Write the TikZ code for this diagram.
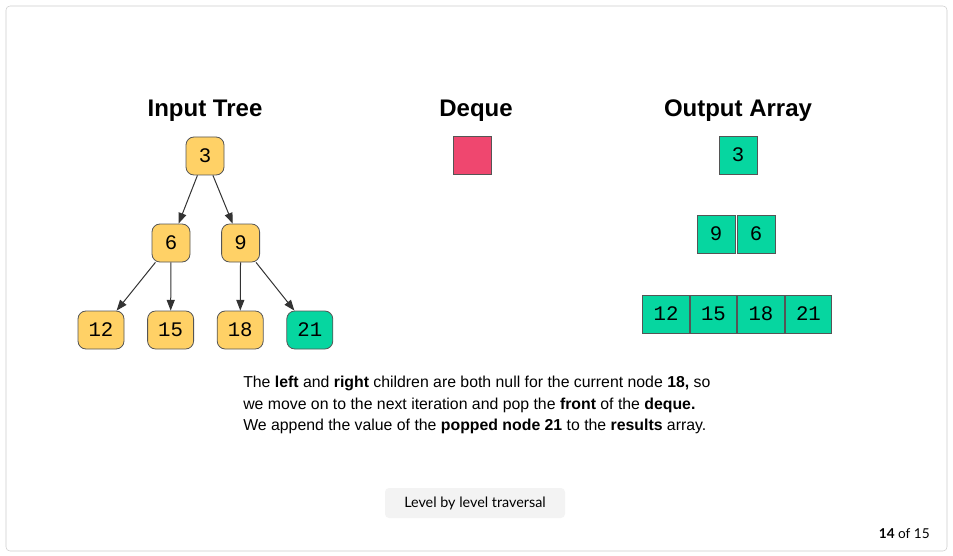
\documentclass[tikz,border=0pt]{standalone}
\usepackage{fontspec}
\setmainfont{Liberation Sans}
\newfontfamily\monofont{Liberation Mono}
\newfontfamily\uifont{Lato}
\usetikzlibrary{arrows.meta, positioning}
\definecolor{treeyellow}{HTML}{FFD166}
\definecolor{donegreen}{HTML}{06D6A0}
\definecolor{dequepink}{HTML}{EF476F}
\definecolor{edgegray}{HTML}{333333}
\definecolor{boxgray}{HTML}{555555}
\definecolor{framegray}{HTML}{CCCCCC}
\definecolor{btngray}{HTML}{F3F3F3}

\begin{document}
\begin{tikzpicture}[x=0.75pt, y=-0.75pt, ->, >={Triangle[length=8pt, width=6pt]},
  node distance=52.2pt,
  treenode/.style={draw=boxgray, line width=0.6pt, fill=treeyellow, rounded corners=6pt, minimum width=28.5pt, minimum height=28.5pt, inner sep=0pt, font=\monofont\fontsize{15.5}{17}\selectfont},
  leaf/.style={treenode, minimum width=34.5pt},
  cell/.style={draw=boxgray, line width=0.6pt, fill=donegreen, minimum width=28.5pt, minimum height=28.5pt, inner sep=0pt, font=\monofont\fontsize{15.5}{17}\selectfont},
  widecell/.style={cell, minimum width=35pt},
  title/.style={font=\bfseries\fontsize{18}{21}\selectfont}]

							\useasboundingbox (0,0) rectangle (953,556);
							\draw[-, framegray, rounded corners=3pt] (6,6) rectangle (947,551);

							\node[title] (ttree) at (205,111) {Input Tree};
							\node[title] (tdeque) at (476,111) {Deque};
							\node[title] (tout) at (738,111) {Output Array};

							\node[treenode] (3) at (205,156) {3};
							\node[treenode] (6) at (171,243) {6};
							\node[treenode] (9) [right of=6] {9};
							\node[leaf] (12) at (101,330) {12};
							\node[leaf] (15) [right of=12] {15};
							\node[leaf] (18) [right of=15] {18};
							\node[leaf, fill=donegreen] (21) [right of=18] {21};

							\path[draw=edgegray, fill=edgegray, line width=0.75pt]
							(3) edge (6)
									edge (9)
							(6) edge (12)
									edge (15)
							(9) edge (18)
									edge (21);

							\node[cell, fill=dequepink] (dq) at (472,155) {};

							\node[cell] (o3) at (738,155) {3};
							\node[cell] (o9) at (716,234) {9};
							\node[cell] (o6) [right of=o9, node distance=30pt] {6};
							\node[widecell] (o12) at (666,314) {12};
							\node[widecell] (o15) [right of=o12, node distance=35.6pt] {15};
							\node[widecell] (o18) [right of=o15, node distance=35.6pt] {18};
							\node[widecell] (o21) [right of=o18, node distance=35.6pt] {21};

							\node[anchor=north west, inner sep=0pt, align=left, font=\fontsize{11.87}{16}\selectfont] (msg) at (243,376)
							{The \textbf{left} and \textbf{right} children are both null for the current node \textbf{18,} so\\
							we move on to the next iteration and pop the \textbf{front} of the \textbf{deque.}\\
							We append the value of the \textbf{popped node 21} to the \textbf{results} array.};

							\node[fill=btngray, rounded corners=3pt, minimum width=135pt, minimum height=22.5pt, font=\uifont\fontsize{10.75}{13}\selectfont] (btn) at (475,503) {Level by level traversal};
							\node[anchor=east, inner sep=0pt, font=\uifont\fontsize{10.2}{12}\selectfont] (page) at (930,534) {\textbf{14} of 15};

						\end{tikzpicture}
\end{document}
